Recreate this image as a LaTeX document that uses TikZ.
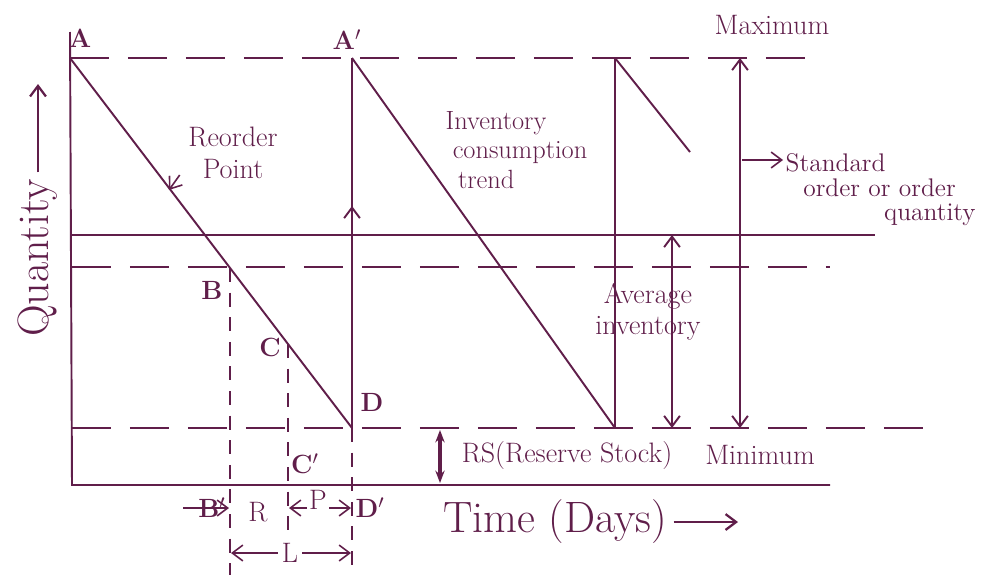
\documentclass[tikz,border=0pt]{standalone}
\usepackage{tikz}
\usetikzlibrary{arrows.meta,decorations.markings,positioning}
\definecolor{inkpurple}{RGB}{96,30,74}

\begin{document}
\begin{tikzpicture}[x=0.2mm,y=-0.2mm,color=inkpurple,line width=1.1pt,
    font=\fontsize{16}{18}\selectfont,
    lvl/.style={dash pattern=on 22pt off 11pt},
    guide/.style={dash pattern=on 8pt off 6pt,line width=1pt},
    dbl/.style={{Straight Barb[length=6pt,width=9pt]}-{Straight Barb[length=6pt,width=9pt]}},
    onearrow/.style={-{Straight Barb[length=6pt,width=9pt]}},
    midarrow/.style={postaction={decorate},decoration={markings,
      mark=at position #1 with {\arrow{Straight Barb[length=6pt,width=9pt]}}}},
    pt/.style={font=\fontsize{15}{17}\selectfont\bfseries},
    txt/.style={align=center,inner sep=1pt}]
  \useasboundingbox (0,0) rectangle (995,575);

  % key points
  \coordinate (top) at (70,32);
  \coordinate (O) at (72,485);
  \coordinate (xend) at (830,485);
  \coordinate (A) at (70,58);
  \coordinate (Ap) at (352,58);
  \coordinate (B) at (230,268);
  \coordinate (C) at (288,344);
  \coordinate (D) at (352,428);
  \coordinate (E) at (615,428);
  \coordinate (F) at (615,58);
  \coordinate (G) at (690,152);

  % axes and levels
  \draw (top) -- (O) -- (xend);
  \draw[lvl,line width=1.5pt] (A) -- (818,58);
  \draw (72,235) -- (875,235);
  \draw[lvl] (72,267) -- (830,267);
  \draw[lvl] (72,428) -- (930,428);

  % consumption lines
  \draw (A) -- (D);
  \draw[midarrow=0.6] (D) -- (Ap);
  \draw (Ap) -- (E);
  \draw (E) -- (F);
  \draw (F) -- (G);

  % guides down to the time axis
  \coordinate (Bb) at (230,575);
  \coordinate (Cb) at (288,532);
  \coordinate (Db) at (352,575);
  \draw[guide] (B) -- (Bb);
  \draw[guide] (C) -- (Cb);
  \draw[guide] (D) -- (Db);

  % quantity arrows
  \draw[dbl] (740,58) -- (740,428);
  \draw[dbl] (672,235) -- (672,428);
  \draw[{Stealth[length=7pt]}-{Stealth[length=7pt]},line width=1.8pt] (440,430) -- (440,483);

  % point letters
  \node[pt] (lA) at (80,38) {A};
  \node[pt] (lAp) at (347,40) {A$'$};
  \node[pt] (lB) at (212,290) {B};
  \node[pt] (lC) at (270,347) {C};
  \node[pt] (lD) at (372,402) {D};
  \node[pt] (lCp) at (305,464) {C$'$};
  \node[pt] (lBp) at (212,508) {B$'$};
  \node[pt] (lDp) at (370,508) {D$'$};

  % time spans R, P, L
  \coordinate (bp0) at (183,508);
  \draw[onearrow,line width=0.9pt] (bp0) -- (229,508);
  \node (lR) at (258,512) {R};
  \draw[dbl,line width=0.9pt] (289,508) -- (351,508);
  \node[fill=white,inner sep=1pt] (lP) at (318,500) {P};
  \draw[dbl,line width=0.9pt] (231,553) -- (351,553);
  \node[fill=white,inner sep=2pt] (lL) at (290,553) {L};

  % texts
  \node[txt] (rp) at (233,153) {Reorder\\Point};
  \coordinate (rptip) at (169,190);
  \draw[onearrow,line width=0.9pt] (rp.west) ++(-6,22) coordinate (rptail) (rptail) -- (rptip);
  \node[txt,align=left,anchor=west,font=\fontsize{15}{17}\selectfont] (trend) at (443,150)
    {Inventory\\\hspace{4pt}consumption\\\hspace{7pt}trend};
  \node[txt] (lmax) at (772,25) {Maximum};
  \node[txt] (lmin) at (760,455) {Minimum};
  \node[txt] (lrs) at (567,455) {RS(Reserve Stock)};
  \node[txt] (lavg) at (648,312) {Average\\inventory};
  \node[txt,align=left,anchor=west,font=\fontsize{14.5}{16}\selectfont] (lstd) at (783,190)
    {Standard\\[-2pt]\hspace{10pt}order or order\\[-2pt]\hspace{56pt}quantity};
  \coordinate (stdtail) at (742,160);
  \draw[onearrow,line width=0.9pt] (stdtail) -- (lstd.west |- stdtail);

  % axis titles
  \node[font=\fontsize{25}{28}\selectfont] (time) at (555,522) {Time (Days)};
  \coordinate (timeend) at (738,522);
  \draw[onearrow,line width=1.3pt] (time.east) -- (timeend);
  \node[rotate=90,font=\fontsize{25}{28}\selectfont] (qty) at (38,258) {Quantity};
  \coordinate (qtyend) at (38,84);
  \draw[onearrow,line width=1.3pt] (qty.east) -- (qtyend);
\end{tikzpicture}
\end{document}
